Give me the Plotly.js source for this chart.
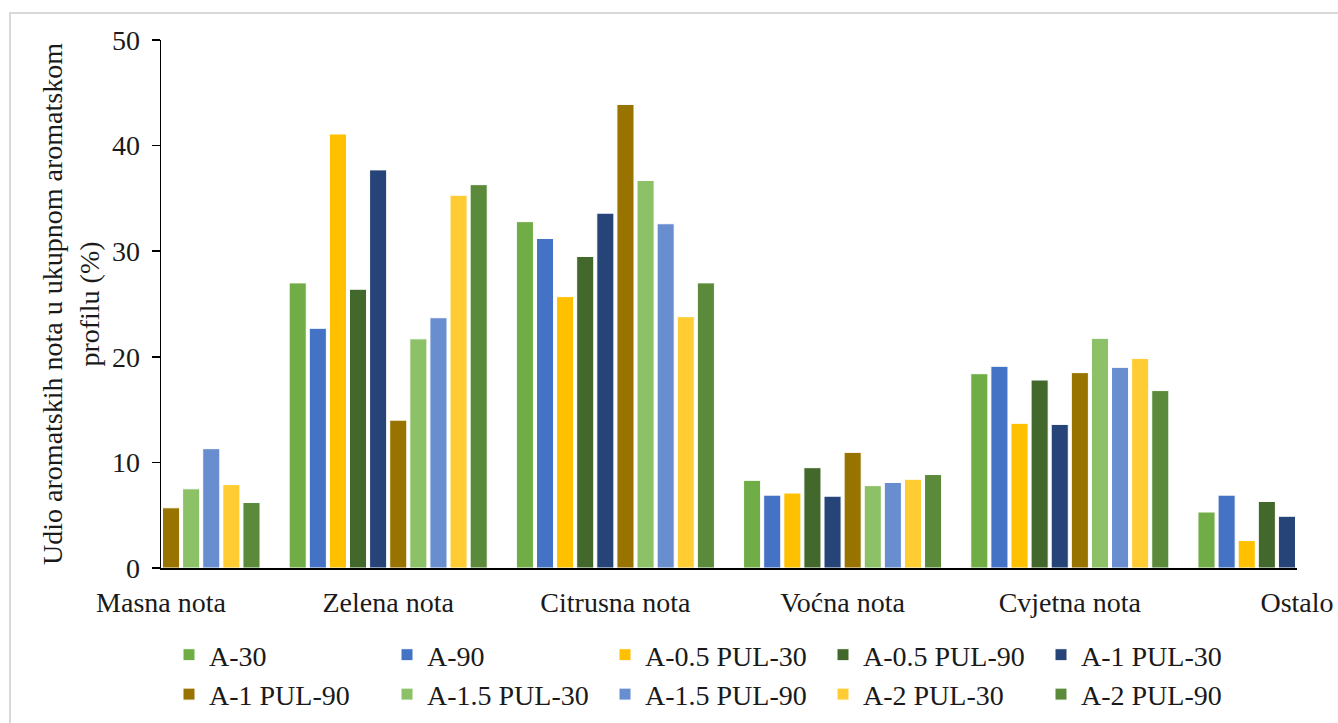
<!DOCTYPE html>
<html>
<head>
<meta charset="utf-8">
<script src="https://cdn.plot.ly/plotly-3.0.1.min.js"></script>
<style>
  html, body { margin: 0; padding: 0; background: #ffffff; }
  #chart { width: 1338px; height: 723px; }
</style>
</head>
<body>
<div id="chart"></div>
<script>
// Categories (x axis)
const categories = ["Masna nota", "Zelena nota", "Citrusna nota", "Voćna nota", "Cvjetna nota", "Ostalo"];

// Series names
const seriesNames = ["A-30", "A-90", "A-0.5 PUL-30", "A-0.5 PUL-90", "A-1 PUL-30",
                     "A-1 PUL-90", "A-1.5 PUL-30", "A-1.5 PUL-90", "A-2 PUL-30", "A-2 PUL-90"];

// Values per series (null = not visible in the reference, outside the plotted range)
const vA30      = [null, 27.0, 32.8, 8.3, 18.4, 5.3];
const vA90      = [null, 22.7, 31.2, 6.9, 19.1, 6.9];
const vA05P30   = [null, 41.1, 25.7, 7.1, 13.7, 2.6];
const vA05P90   = [null, 26.4, 29.5, 9.5, 17.8, 6.3];
const vA1P30    = [null, 37.7, 33.6, 6.8, 13.6, 4.9];
const vA1P90    = [5.7, 14.0, 43.9, 10.95, 18.5, null];
const vA15P30   = [7.5, 21.7, 36.7, 7.8, 21.75, null];
const vA15P90   = [11.3, 23.7, 32.6, 8.1, 19.0, null];
const vA2P30    = [7.9, 35.3, 23.8, 8.4, 19.85, null];
const vA2P90    = [6.2, 36.3, 27.0, 8.85, 16.8, null];

const seriesValues = [vA30, vA90, vA05P30, vA05P90, vA1P30, vA1P90, vA15P30, vA15P90, vA2P30, vA2P90];

const seriesColors = ["#70AD47", "#4472C4", "#FFC000", "#43682B", "#264478",
                      "#997300", "#8CC168", "#698ED0", "#FFCD33", "#5B8A3A"];

const yTickVals = [0, 10, 20, 30, 40, 50];

const traces = seriesNames.map((name, i) => ({
  type: "bar",
  name: name,
  x: categories,
  y: seriesValues[i],
  marker: { color: seriesColors[i], line: { color: "#ffffff", width: 1 } },
  hoverinfo: "x+y+name"
}));

const FONT = "Liberation Serif, Times New Roman, serif";
const TXT = "#1a1a1a";
const FS = 28;

const W = 1338, H = 723;
// plot area in px: left 161, right 1297, top 40, bottom 568
const L = 161, R = 1297, T = 40, B = 568;
const PW = R - L, PH = B - T;
function px2x(p) { return (p - L) / PW; }
function px2y(p) { return (B - p) / PH; }

const layout = {
  width: W,
  height: H,
  margin: { l: L, r: W - R, t: T, b: H - B, pad: 0, autoexpand: false },
  paper_bgcolor: "#ffffff",
  plot_bgcolor: "#ffffff",
  font: { family: FONT, size: FS, color: TXT },
  barmode: "group",
  bargap: 0.115,
  bargroupgap: 0.15,
  showlegend: true,
  xaxis: {
    type: "category",
    range: [0, 5],
    showline: true,
    linecolor: "#000000",
    linewidth: 1.5,
    ticks: "",
    showgrid: false,
    zeroline: false,
    automargin: false,
    tickfont: { family: FONT, size: FS, color: TXT },
    ticklabelstandoff: 9,
    fixedrange: true
  },
  yaxis: {
    range: [0, 50],
    tickvals: yTickVals,
    ticktext: yTickVals.map(String),
    showline: true,
    linecolor: "#000000",
    linewidth: 1.5,
    ticks: "outside",
    ticklen: 8,
    tickwidth: 1.5,
    tickcolor: "#000000",
    showgrid: false,
    zeroline: false,
    automargin: false,
    tickfont: { family: FONT, size: FS, color: TXT },
    ticklabelstandoff: 6,
    title: {
      text: "Udio aromatskih nota u ukupnom aromatskom<br>profilu (%)",
      font: { family: FONT, size: FS, color: TXT },
      standoff: 4
    },
    fixedrange: true
  },
  legend: {
    orientation: "h",
    x: px2x(169),
    xanchor: "left",
    y: px2y(719),
    yanchor: "bottom",
    font: { family: FONT, size: FS, color: TXT },
    entrywidth: 173,
    entrywidthmode: "pixels",
    traceorder: "normal",
    bgcolor: "rgba(0,0,0,0)",
    tracegroupgap: 0
  },
  shapes: [{
    type: "rect",
    xref: "paper", yref: "paper",
    x0: px2x(10), x1: px2x(1350),
    y0: px2y(13), y1: px2y(735),
    line: { color: "#D9D9D9", width: 2 },
    fillcolor: "rgba(0,0,0,0)",
    layer: "below"
  }]
};

Plotly.newPlot("chart", traces, layout, { displayModeBar: false, staticPlot: true });
</script>
</body>
</html>
